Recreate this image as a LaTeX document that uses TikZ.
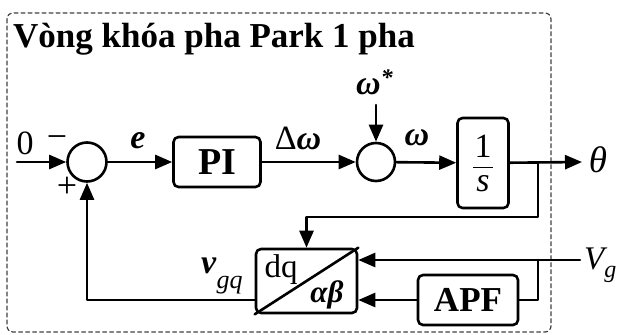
\documentclass[tikz,border=0pt]{standalone}
\usepackage{amsmath}
\usepackage{fontspec}
\setmainfont{Liberation Serif}
\usetikzlibrary{arrows.meta}

\begin{document}
\begin{tikzpicture}[
		x=1pt, y=-1pt,
		line cap=round,
		line join=round,
		wire/.style={line width=2.6pt},
		sig/.style={wire, -{Triangle[length=17pt,width=14pt]}},
		blk/.style={draw, line width=2.6pt, rounded corners=5pt, inner sep=0pt},
		sumnode/.style={draw, circle, line width=2.6pt, minimum size=39pt, inner sep=0pt},
		lbl/.style={font=\fontsize{34}{36}\selectfont\bfseries\itshape, inner sep=0pt}
		]
		% =========================
		% Picture size and frame
		% =========================
		\useasboundingbox (0,0) rectangle (617,334);
		\draw[line width=1.2pt, black!75, dash pattern=on 4pt off 3pt, rounded corners=6pt]
		(7,13) rectangle (551,332);
		
		\node[anchor=base west, inner sep=0pt, font=\fontsize{35}{37}\selectfont\bfseries]
		(title) at (13,48) {Vòng khóa pha Park 1 pha};
		
		% --------------------------------
		% Forward path blocks
		% --------------------------------
		\node[sumnode] (sum1) at (87,162) {};
		\node[blk, minimum width=87pt, minimum height=50pt,
		font=\fontsize{38}{40}\selectfont\bfseries] (pi) at (217,162) {PI};
		\node[sumnode, minimum size=38pt] (sum2) at (376,162) {};
		\node[blk, minimum width=51pt, minimum height=90pt,
		font=\fontsize{34}{36}\selectfont] (int) at (483,163)
		{$\dfrac{\makebox[20pt]{\text{1}}}{\textit{s}}$};
		
		% --------------------------------
		% Transform and all-pass filter
		% --------------------------------
		\node[blk, minimum width=101pt, minimum height=64pt] (dq) at (306.5,281) {};
		\node[blk, minimum width=100pt, minimum height=50pt,
		font=\fontsize{35}{37}\selectfont\bfseries] (apf) at (468,300) {APF};
		\draw[wire] (dq.south west) -- (dq.north east);
		\node[inner sep=0pt, font=\fontsize{33}{35}\selectfont] (dqtxt) at (281,270) {dq};
		\node[lbl, font=\fontsize{31}{33}\selectfont\bfseries\itshape] (abtxt) at (327,295) {αβ};
		
		% --------------------------------
		% Free ends
		% --------------------------------
		\coordinate (zin) at (17,162);
		\coordinate (wref) at (376,105);
		\coordinate (thout) at (582,162);
		\coordinate (vgin) at (580,260);
		\coordinate (tap) at (538,260);
		\coordinate (fb) at (538,217);
		
		% --------------------------------
		% Connectors
		% --------------------------------
		\draw[sig] (zin) -- (sum1);
		\draw[sig] (sum1) -- (pi);
		\draw[sig] (pi) -- (sum2);
		\draw[sig] (wref) -- (sum2);
		\draw[sig] (sum2) -- (int);
		\draw[sig] (int) -- (thout);
		\draw[sig] (int.east -| fb) -- (fb) -| (dq.north);
		\draw[sig] (vgin) -- (dq.east |- vgin);
		\draw[wire] (tap) |- (apf.east);
		\draw[sig] (apf) -- (dq.east |- apf);
		\draw[sig] (dq.west |- apf) -| (sum1.south);
		
		% --------------------------------
		% Signal labels
		% --------------------------------
		\node[inner sep=0pt, font=\fontsize{34}{36}\selectfont] (zero) at (25,143) {0};
		\node[inner sep=0pt, font=\fontsize{36}{38}\selectfont] (minus) at (57,142) {−};
		\node[inner sep=0pt, font=\fontsize{36}{38}\selectfont] (plus) at (67,187) {+};
		\node[lbl] (elbl) at (138,141) {e};
		\node[inner sep=0pt, font=\fontsize{34}{36}\selectfont] (dwlbl) at (298,138) {Δ\textbf{\textit{ω}}};
		\node[lbl, anchor=base west] (wslbl) at (356,95) {ω\textsuperscript{*}};
		\node[lbl] (wlbl) at (417,138) {ω};
		\node[inner sep=0pt, font=\fontsize{37}{39}\selectfont\itshape] (thlbl) at (598,160) {θ};
		\node[anchor=base west, inner sep=0pt, font=\fontsize{33}{35}\selectfont\itshape]
		(vglbl) at (584,269) {V\raisebox{-8pt}{\fontsize{24}{26}\selectfont g}};
		\node[anchor=base west, inner sep=0pt, font=\fontsize{34}{36}\selectfont]
		(vqlbl) at (201,273) {\textbf{\textit{v}}\raisebox{-15pt}{\fontsize{26}{28}\selectfont\itshape gq}};
		
	\end{tikzpicture}
\end{document}
